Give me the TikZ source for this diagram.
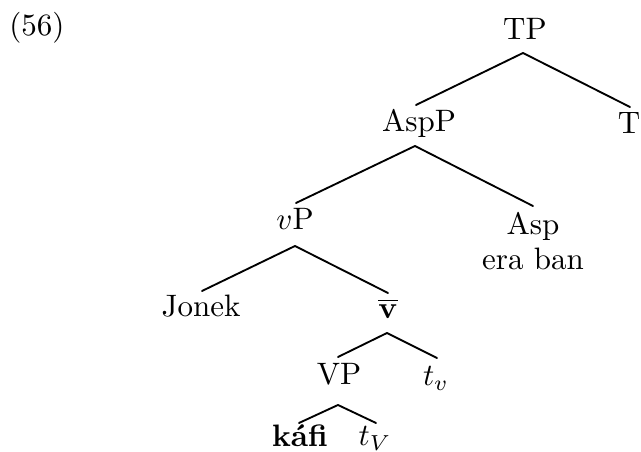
\documentclass[tikz,border=0pt]{standalone}
\usepackage{amsmath}
\begin{document}
\begin{tikzpicture}[x=0.32258pt,y=-0.32258pt,
  lab/.style={anchor=base,inner sep=0pt,font=\normalsize},
  edge/.style={line width=0.6pt,line cap=round,line join=round}]
\useasboundingbox (0,0) rectangle (641,452);
% labels
\node[lab] (ex) at (37,36) {(56)};
\node[lab] (TP) at (525,40) {TP};
\node[lab] (AspP) at (419,132) {AspP};
\node[lab] (T) at (629,134) {T};
\node[lab] (vP) at (295,230) {$v$P};
\node[lab] (Asp) at (533,235) {Asp};
\node[lab] (era) at (533,270) {era ban};
\node[lab] (Jonek) at (201,317) {Jonek};
\node[lab] (vbar) at (388,319) {$\overline{\mathbf{v}}$};
\node[lab] (VP) at (339,385) {VP};
\node[lab] (tv) at (436,386) {$t_v$};
\node[lab] (kafi) at (300,447) {\textbf{káfi}};
\node[lab] (tV) at (375,446) {$t_V$};
% branch points
\coordinate (TPa) at (523,53);
\coordinate (TPl) at (416,105);
\coordinate (TPr) at (630,107);
\coordinate (AspPa) at (415,146);
\coordinate (AspPl) at (296,203);
\coordinate (AspPr) at (533,206);
\coordinate (vPa) at (295,246);
\coordinate (vPl) at (202,291);
\coordinate (vPr) at (388,293);
\coordinate (vbara) at (387,333);
\coordinate (vbarl) at (338,357);
\coordinate (vbarr) at (437,358);
\coordinate (VPa) at (338,405);
\coordinate (VPl) at (299,423);
\coordinate (VPr) at (376,423);
% edges
\draw[edge] (TPl) -- (TPa) -- (TPr);
\draw[edge] (AspPl) -- (AspPa) -- (AspPr);
\draw[edge] (vPl) -- (vPa) -- (vPr);
\draw[edge] (vbarl) -- (vbara) -- (vbarr);
\draw[edge] (VPl) -- (VPa) -- (VPr);
\end{tikzpicture}
\end{document}
